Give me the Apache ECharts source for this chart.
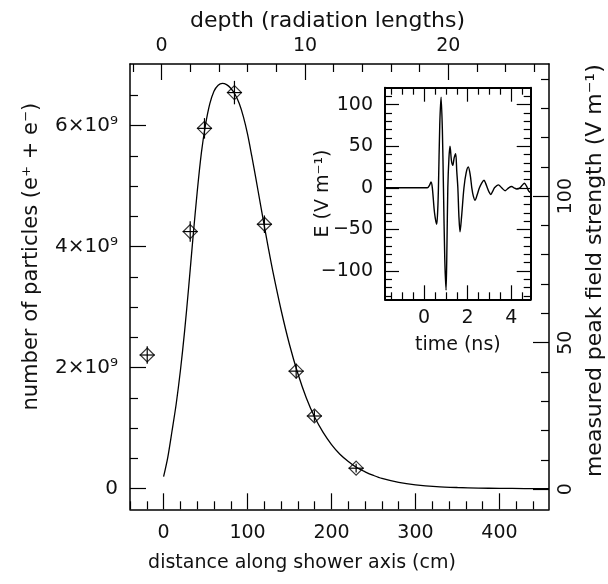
<!DOCTYPE html>
<html><head><meta charset="utf-8">
<script src="https://cdn.jsdelivr.net/npm/echarts@6.0.0/dist/echarts.min.js"></script>
<style>html,body{margin:0;padding:0;background:#fff}#c{width:608px;height:584px}</style>
</head><body><div id="c"></div>
<script>
// ---- main panel: simulated shower profile (curve) ----
const profileDistanceCm = [0,5,10,15,20,25,30,35,40,45,50,55,60,65,70,75,80,85,90,95,100,105,110,115,120,125,130,140,150,160,170,180,190,200,210,220,230,240,250,260,280,300,325,350,375,400,430,459];
const profileParticlesE9 = [0.2,0.52,0.95,1.4,1.95,2.6,3.35,4.15,4.9,5.55,6.02,6.36,6.57,6.67,6.70,6.68,6.62,6.52,6.37,6.15,5.86,5.5,5.12,4.73,4.34,3.96,3.6,2.95,2.38,1.9,1.5,1.18,0.93,0.73,0.57,0.45,0.35,0.28,0.22,0.17,0.105,0.065,0.035,0.02,0.011,0.006,0.003,0.002];

// ---- main panel: measured peak field strength ----
const measDistanceCm = [-19.5, 31.7, 48.7, 84.4, 120.1, 157.9, 179.6, 229.3];
const measFieldVm    = [45.8, 87.9, 123.1, 135.3, 90.4, 40.3, 25.0, 7.2];
const measDistErrCm  = [9, 9, 9, 9, 9, 9, 9, 9];
const measFieldErrVm = [3, 3.5, 3.5, 4, 3, 2.5, 2, 1.5];

// ---- inset: field pulse ----
const pulseTimeNs = [-1.8,0.15,0.25,0.32,0.38,0.48,0.58,0.63,0.66,0.72,0.78,0.84,0.89,0.95,1.01,1.05,1.09,1.14,1.19,1.26,1.32,1.38,1.45,1.5,1.55,1.6,1.65,1.72,1.83,1.93,2.03,2.12,2.19,2.26,2.34,2.44,2.54,2.65,2.75,2.83,2.9,2.98,3.06,3.15,3.23,3.41,3.56,3.72,3.88,4.02,4.12,4.25,4.4,4.5,4.6,4.7,4.8,4.89];
const pulseFieldVm = [0,0,3,7,0,-30,-44,-25,0,75,109,70,0,-85,-123,-70,0,35,50,32,27,36,41,20,0,-35,-53,-35,0,18,25,15,0,-10,-15,-8,0,6,9,5,0,-5,-8,-4,0,3.5,0,-3.5,0,1.5,0,-1.5,0,3,5.5,2,-4,-6];

// ---- tick labels ----
const distanceTicks = [0,100,200,300,400];
const distanceMinor = [-40,-20,20,40,60,80,120,140,160,180,220,240,260,280,320,340,360,380,420,440];
const depthTicks = [0,10,20];
const depthMinor = [-2,2,4,6,8,12,14,16,18,22,24,26];
const particleTicks = [0,2,4,6];
const particleMinor = [0.5,1,1.5,2.5,3,3.5,4.5,5,5.5,6.5];
const fieldTicks = [0,50,100];
const fieldMinor = [10,20,30,40,60,70,80,90,110,120,130,140];
const timeTicks = [0,2,4];
const timeMinor = [-1.5,-1,-0.5,0.5,1,1.5,2.5,3,3.5,4.5];
const pulseTicks = [-100,-50,0,50,100];
const pulseMinor = [-130,-120,-110,-90,-80,-70,-60,-40,-30,-20,-10,10,20,30,40,60,70,80,90,110];

const FONT = 'DejaVu Sans';
const TXT = '#111';
const fs = 19;

function ax(o){
  const a = {
    type:'value', gridIndex:o.grid, position:o.pos, min:o.min, max:o.max,
    splitLine:{show:false}, minorTick:{show:false},
    axisLine:{show:!!o.line, onZero:false, lineStyle:{color:'#000', width:o.lw||1.5}},
    axisTick:{show:true, inside:true, length:o.len, customValues:o.ticks, lineStyle:{color:'#000', width:1.2}},
    axisLabel:{show:false}
  };
  if (o.labels) {
    a.axisLabel = {show:true, customValues:o.labels, margin:o.margin, rotate:o.rotate||0,
      color:TXT, fontFamily:FONT, fontSize:o.fs||fs, formatter:o.fmt};
  }
  if (o.name) {
    a.name = o.name; a.nameLocation = 'middle'; a.nameGap = o.gap;
    if (o.nameRotate !== undefined) a.nameRotate = o.nameRotate;
    if (o.noMove) a.nameMoveOverlap = false;
    a.nameTextStyle = {color:TXT, fontFamily:FONT, fontSize:o.nfs||fs, padding:o.pad||0};
  }
  return a;
}

const X0 = {min:-40, max:459}, XT = {min:-2.21, max:27.03};
const YL = {min:-0.34, max:7.02}, YR = {min:-6.82, max:145.05};
const XI = {min:-1.79, max:4.89}, YI = {min:-134, max:120.3};

const xAxes = [
  ax({grid:0,pos:'bottom',...X0,line:true,len:16,ticks:distanceTicks,labels:distanceTicks,margin:14,
      name:'distance along shower axis (cm)',gap:44,pad:[0,75,0,0]}),
  ax({grid:0,pos:'bottom',...X0,len:8,ticks:distanceMinor}),
  ax({grid:0,pos:'top',...XT,line:true,len:16,ticks:depthTicks,labels:depthTicks,margin:8,
      name:'depth (radiation lengths)',gap:32,nfs:22,pad:[0,24,0,0]}),
  ax({grid:0,pos:'top',...XT,len:8,ticks:depthMinor}),
  ax({grid:1,pos:'bottom',...XI,line:true,lw:2,len:14,ticks:timeTicks,labels:timeTicks,margin:9,
      name:'time (ns)',gap:36}),
  ax({grid:1,pos:'bottom',...XI,len:7,ticks:timeMinor}),
  ax({grid:1,pos:'top',...XI,line:true,lw:2,len:14,ticks:timeTicks}),
  ax({grid:1,pos:'top',...XI,len:7,ticks:timeMinor})
];
const yAxes = [
  ax({grid:0,pos:'left',...YL,line:true,len:16,ticks:particleTicks,labels:particleTicks,margin:12,fs:20,
      fmt:v=> v===0 ? '0' : v+'×10⁹',
      name:'number of particles (e⁺ + e⁻)',gap:88,nameRotate:90,nfs:21,pad:[0,0,0,60]}),
  ax({grid:0,pos:'left',...YL,len:8,ticks:particleMinor}),
  ax({grid:0,pos:'right',...YR,line:true,len:16,ticks:fieldTicks,labels:fieldTicks,margin:8,rotate:90,
      name:'measured peak field strength (V m⁻¹)',gap:31,nameRotate:90,nfs:22,pad:[0,0,0,32]}),
  ax({grid:0,pos:'right',...YR,len:8,ticks:fieldMinor}),
  ax({grid:1,pos:'left',...YI,line:true,lw:2,len:14,ticks:pulseTicks,labels:pulseTicks,margin:12,
      fmt:v=> v<0 ? '\u2212'+(-v) : ''+v,
      name:'E (V m⁻¹)',gap:52,nameRotate:90,noMove:true}),
  ax({grid:1,pos:'left',...YI,len:7,ticks:pulseMinor}),
  ax({grid:1,pos:'right',...YI,line:true,lw:2,len:14,ticks:pulseTicks}),
  ax({grid:1,pos:'right',...YI,len:7,ticks:pulseMinor})
];

const profileData = profileDistanceCm.map((x,i)=>[x, profileParticlesE9[i]]);
const measData = measDistanceCm.map((x,i)=>[x, measFieldVm[i], measDistErrCm[i], measFieldErrVm[i]]);
const pulseData = pulseTimeNs.map((t,i)=>[t, pulseFieldVm[i]]);

const chart = echarts.init(document.getElementById('c'), null, {renderer:'canvas'});
chart.setOption({
  backgroundColor:'#fff',
  animation:false,
  grid:[
    {left:130, top:64, width:419, height:445.3, containLabel:false, outerBoundsMode:'none'},
    {left:385, top:87.7, width:145.7, height:211.6, containLabel:false, outerBoundsMode:'none'}
  ],
  xAxis:xAxes,
  yAxis:yAxes,
  series:[
    {type:'line', xAxisIndex:0, yAxisIndex:0, data:profileData, showSymbol:false, smooth:0.3,
     lineStyle:{color:'#000', width:1.3}},
    {type:'custom', xAxisIndex:0, yAxisIndex:2, data:measData,
     renderItem:function(params, api){
       const x=api.value(0), y=api.value(1), ex=api.value(2), ey=api.value(3);
       const l=api.coord([x-ex,y]), r=api.coord([x+ex,y]);
       const t=api.coord([x,y+ey]), b=api.coord([x,y-ey]);
       const st={stroke:'#000', lineWidth:1.2};
       return {type:'group', children:[
         {type:'line', shape:{x1:l[0],y1:l[1],x2:r[0],y2:r[1]}, style:st},
         {type:'line', shape:{x1:t[0],y1:t[1],x2:b[0],y2:b[1]}, style:st}
       ]};
     }},
    {type:'scatter', xAxisIndex:0, yAxisIndex:2, data:measData.map(d=>[d[0],d[1]]),
     symbol:'diamond', symbolSize:14,
     itemStyle:{color:'rgba(0,0,0,0)', borderColor:'#000', borderWidth:1.2}},
    {type:'line', xAxisIndex:4, yAxisIndex:4, data:pulseData, showSymbol:false, smooth:0.3,
     lineStyle:{color:'#000', width:1.4}}
  ]
});
</script></body></html>
